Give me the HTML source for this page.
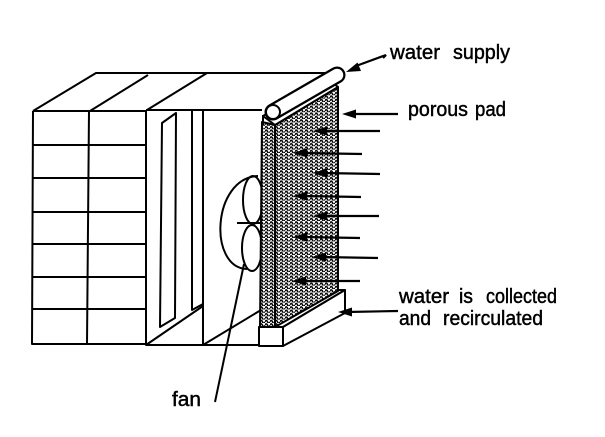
<!DOCTYPE html>
<html><head><meta charset="utf-8"><style>
html,body{margin:0;padding:0;background:#fff;}
svg{display:block;}
text{font-family:"Liberation Sans",Arial,sans-serif;font-size:20px;fill:#000;stroke:#000;stroke-width:0.45;}
</style></head><body>
<svg width="605" height="437" viewBox="0 0 605 437" xmlns="http://www.w3.org/2000/svg">
<defs>
<pattern id="tx" width="5" height="3.4" patternUnits="userSpaceOnUse">
<rect width="5" height="3.4" fill="#fff"/>
<path d="M0,2.2 c0.8,-1.8 1.7,-1.8 2.5,0 s1.7,1.8 2.5,0" fill="none" stroke="#000" stroke-width="1.5"/>
</pattern>
</defs>
<g fill="none" stroke="#000" stroke-width="2" stroke-linejoin="round">
<!-- left brick block -->
<path d="M33,111 L32,344 L146,344"/>
<path d="M33,111 L146,111"/>
<path d="M33,145 L146,145 M33,178 L146,178 M32,212 L146,212 M32,244 L146,244 M32,277 L146,277 M32,309 L146,309"/>
<path d="M89,111 L87,344"/>
<path d="M33,111 L96,73 L330,73"/>
<path d="M90,111 L148,75"/>
<!-- cooler box -->
<path d="M146,110 L146,345 L262,345"/>
<path d="M146,110 L262,110"/>
<path d="M147,110 L207,73"/>
<path d="M203,110 L203,345"/>
<path d="M162,123 L176,113 L175,318 L160,327 Z"/>
<path d="M192,110 L192,310 L203,304"/>
<path d="M146,345 L203,306"/>
<path d="M203,345 L261,310"/>
<!-- fan -->
<path d="M258,176 C212,178 208,268 247,269"/>
<ellipse cx="253" cy="200" rx="10" ry="24"/>
<ellipse cx="252" cy="248" rx="10" ry="23"/>
<path d="M237,223 L262,223"/>
<path d="M244,264 L215,402"/>
<!-- trough -->
<rect x="259" y="327" width="24" height="19" fill="#fff"/>
<path d="M259,327 L283,327 L345,290 L338,290 Z" fill="#fff"/>
<path d="M283,327 L345,290 L345,313 L283,346 Z" fill="#fff"/>
<!-- pad -->
<path d="M262,122 L275,125 L275,327 L260,327 Z" fill="url(#tx)"/>
<path d="M275,125 L338,87 L338,291 L275,327 Z" fill="url(#tx)"/>
<path d="M263,116 L328,79 L338,87 L275,125 Z" fill="#fff"/>
<path d="M263,115 L263,125"/>
</g>
<!-- pipe -->
<line x1="273" y1="112" x2="337" y2="75" stroke="#000" stroke-width="17" stroke-linecap="round"/>
<line x1="273" y1="112" x2="337" y2="75" stroke="#fff" stroke-width="12.5" stroke-linecap="round"/>
<circle cx="273" cy="112" r="7" fill="#fff" stroke="#000" stroke-width="2"/>
<!-- arrows -->
<g stroke="#000" stroke-width="2.2" fill="none">
<path d="M356,66 L386,55 L383,58"/>
<path d="M352,114 L398,114"/>
<path d="M322,131 L380,131"/>
<path d="M302,153 L362,154"/>
<path d="M322,173 L380,174"/>
<path d="M302,196 L361,197"/>
<path d="M322,216 L379,216"/>
<path d="M302,237 L360,238"/>
<path d="M321,257 L378,258"/>
<path d="M301,281 L360,281"/>
<path d="M347,312 L398,311"/>
</g>
<g fill="#000">
<polygon points="346,72 361,71 357.5,62.5"/>
<polygon points="342,114 356,109.5 356,118.5"/>
<polygon points="313,131 327,126.5 327,135.5"/>
<polygon points="293,153 307,148.5 307,157.5"/>
<polygon points="313,173 327,168.5 327,177.5"/>
<polygon points="293,196 307,191.5 307,200.5"/>
<polygon points="313,216 327,211.5 327,220.5"/>
<polygon points="293,237 307,232.5 307,241.5"/>
<polygon points="312,257 326,252.5 326,261.5"/>
<polygon points="292,281 306,276.5 306,285.5"/>
<polygon points="338,312 352,307.5 352,316.5"/>
</g>
<!-- labels -->
<text x="390" y="59" textLength="50" lengthAdjust="spacingAndGlyphs">water</text>
<text x="453" y="59" textLength="57" lengthAdjust="spacingAndGlyphs">supply</text>
<text x="408" y="116" textLength="60" lengthAdjust="spacingAndGlyphs">porous</text>
<text x="475" y="116" textLength="31" lengthAdjust="spacingAndGlyphs">pad</text>
<text x="399" y="303" textLength="50" lengthAdjust="spacingAndGlyphs">water</text>
<text x="459" y="303" textLength="14" lengthAdjust="spacingAndGlyphs">is</text>
<text x="486" y="303" textLength="71" lengthAdjust="spacingAndGlyphs">collected</text>
<text x="399" y="325" textLength="32" lengthAdjust="spacingAndGlyphs">and</text>
<text x="443" y="325" textLength="100" lengthAdjust="spacingAndGlyphs">recirculated</text>
<text x="172" y="406" textLength="29" lengthAdjust="spacingAndGlyphs">fan</text>
</svg>
</body></html>
